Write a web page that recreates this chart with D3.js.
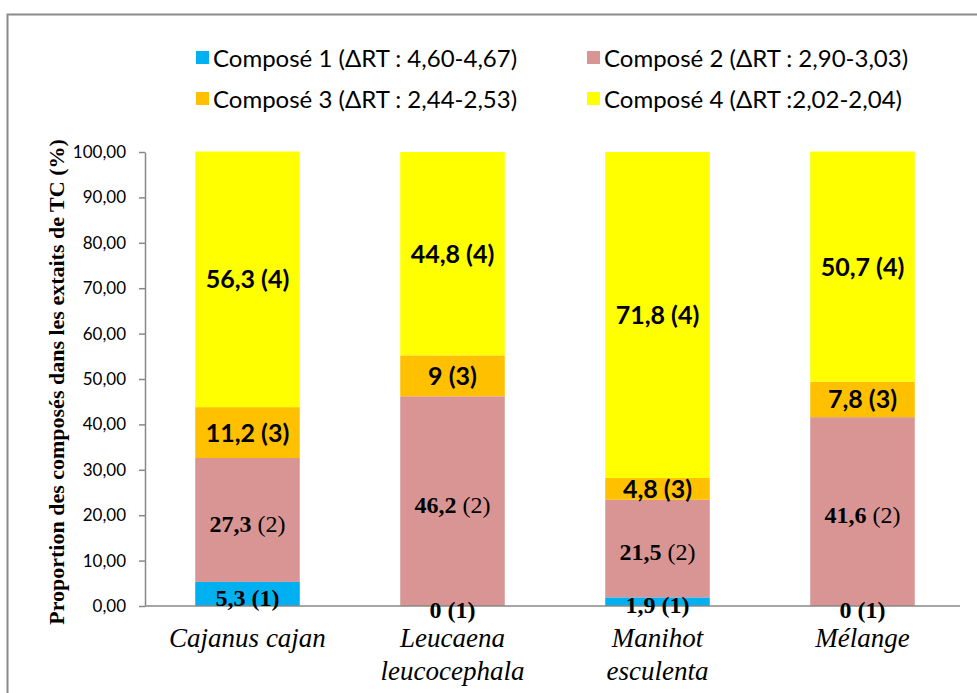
<!DOCTYPE html>
<html>
<head>
<meta charset="utf-8">
<script src="https://cdn.jsdelivr.net/npm/d3@7"></script>
<style>
  html, body { margin: 0; padding: 0; background: #fff; }
  svg { display: block; }
</style>
</head>
<body>
<svg id="chart" width="977" height="693"></svg>
<script>
// ---- data ----
const categories = [["Cajanus cajan"], ["Leucaena", "leucocephala"], ["Manihot", "esculenta"], ["Mélange"]];
const compose1 = [5.3, 0, 1.9, 0];
const compose2 = [27.3, 46.2, 21.5, 41.6];
const compose3 = [11.2, 9, 4.8, 7.8];
const compose4 = [56.3, 44.8, 71.8, 50.7];
const seriesNames = ["Composé 1 (ΔRT : 4,60-4,67)", "Composé 2 (ΔRT : 2,90-3,03)", "Composé 3 (ΔRT : 2,44-2,53)", "Composé 4 (ΔRT :2,02-2,04)"];
const seriesIdx = ["(1)", "(2)", "(3)", "(4)"];
const colors = ["#00B0F0", "#D99594", "#FFC000", "#FFFF00"];
const yTicks = [0, 10, 20, 30, 40, 50, 60, 70, 80, 90, 100];
const yTitle = "Proportion des composés dans les extaits de TC (%)";

// ---- setup ----
const svg = d3.select("#chart");
const W = 977, H = 693;
const seriesValues = [compose1, compose2, compose3, compose4];
const catKeys = categories.map(c => c.join(" "));

const rows = catKeys.map((k, i) => {
  const r = { key: k };
  seriesValues.forEach((s, j) => r["s" + j] = s[i]);
  return r;
});
const stack = d3.stack().keys(["s0", "s1", "s2", "s3"]);
const stacked = stack(rows);

const x = d3.scaleBand().domain(catKeys).range([145, 965]).paddingInner(0.49).paddingOuter(0.245);
const y = d3.scaleLinear().domain([0, 100]).range([606, 152]);

const locale = d3.formatLocale({ decimal: ",", thousands: " ", grouping: [3], currency: ["", ""] });
const tickFmt = locale.format(".2f");
const valFmt = v => String(v).replace(".", ",");

// outer border
svg.append("rect")
  .attr("x", 7.5).attr("y", 14.5)
  .attr("width", W + 10).attr("height", H + 10)
  .attr("fill", "none").attr("stroke", "#8a8a8a").attr("stroke-width", 2);

// bars
const layers = svg.append("g").selectAll("g").data(stacked).join("g")
  .attr("fill", (d, i) => colors[i]);
layers.selectAll("rect").data(d => d).join("rect")
  .attr("x", d => x(d.data.key))
  .attr("width", x.bandwidth())
  .attr("y", d => y(d[1]))
  .attr("height", d => y(d[0]) - y(d[1]));

// axes
const yAxis = svg.append("g").attr("transform", "translate(145,0)")
  .call(d3.axisLeft(y).tickValues(yTicks).tickFormat(tickFmt).tickSize(6).tickSizeOuter(0));
yAxis.select(".domain").attr("stroke", "#888").attr("stroke-width", 1.5);
yAxis.selectAll(".tick line").attr("stroke", "#888").attr("stroke-width", 1.5);
yAxis.selectAll(".tick text")
  .attr("x", -19)
  .attr("font-family", "Lato, 'Open Sans', sans-serif")
  .attr("font-size", 17)
  .attr("fill", "#000");

const xAxis = svg.append("g").attr("transform", "translate(0,606)")
  .call(d3.axisBottom(x).tickSize(0).tickFormat(""));
xAxis.select(".domain").attr("stroke", "#888").attr("stroke-width", 1.5)
  .attr("d", "M145,0H960");

// category labels
categories.forEach((lines, i) => {
  const t = svg.append("text")
    .attr("x", x(catKeys[i]) + x.bandwidth() / 2)
    .attr("y", 647)
    .attr("text-anchor", "middle")
    .attr("font-family", "'Liberation Serif', 'Times New Roman', serif")
    .attr("font-style", "italic")
    .attr("font-size", 27)
    .attr("fill", "#000");
  lines.forEach((ln, k) => {
    t.append("tspan").attr("x", x(catKeys[i]) + x.bandwidth() / 2)
      .attr("dy", k === 0 ? 0 : 33).text(ln);
  });
});

// y title
svg.append("text")
  .attr("transform", `translate(64,${(138 + 626) / 2}) rotate(-90)`)
  .attr("text-anchor", "middle")
  .attr("font-family", "'Liberation Serif', 'Times New Roman', serif")
  .attr("font-weight", "bold")
  .attr("font-size", 22)
  .attr("fill", "#000")
  .text(yTitle);

// value labels
stacked.forEach((layer, j) => {
  layer.forEach((d, i) => {
    const cx = x(d.data.key) + x.bandwidth() / 2;
    const cy = (y(d[0]) + y(d[1])) / 2;
    const v = seriesValues[j][i];
    if (j >= 2) {
      svg.append("text")
        .attr("x", cx).attr("y", cy).attr("dy", "0.36em")
        .attr("text-anchor", "middle")
        .attr("font-family", "Lato, 'Open Sans', sans-serif")
        .attr("font-weight", "bold")
        .attr("font-size", 25)
        .attr("fill", "#000")
        .text(valFmt(v) + " " + seriesIdx[j]);
    } else {
      const t = svg.append("text")
        .attr("x", cx).attr("y", cy + 3).attr("dy", "0.36em")
        .attr("text-anchor", "middle")
        .attr("font-family", "'Liberation Serif', 'Times New Roman', serif")
        .attr("font-size", 24)
        .attr("fill", "#000");
      t.append("tspan").attr("font-weight", "bold").text(valFmt(v) + " ");
      t.append("tspan").attr("font-weight", j === 0 ? "bold" : "normal").text(seriesIdx[j]);
    }
  });
});

// legend
const legPos = [[196, 58], [587, 58], [196, 99], [587, 99]];
seriesNames.forEach((name, i) => {
  const [lx, ly] = legPos[i];
  svg.append("rect").attr("x", lx).attr("y", ly - 7).attr("width", 13).attr("height", 13).attr("fill", colors[i]);
  svg.append("text")
    .attr("x", lx + 17).attr("y", ly).attr("dy", "0.36em")
    .attr("font-family", "Lato, 'Open Sans', sans-serif")
    .attr("font-size", 24)
    .attr("fill", "#000")
    .text(name);
});
</script>
</body>
</html>
